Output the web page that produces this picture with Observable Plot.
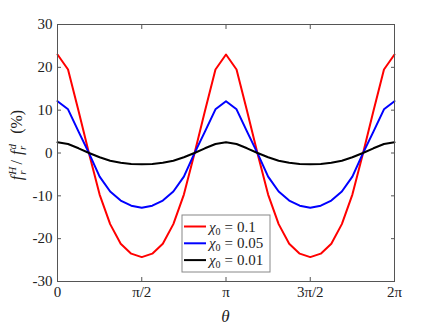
<!DOCTYPE html>
<html>
<head>
<meta charset="utf-8">
<script src="https://cdn.jsdelivr.net/npm/d3@7"></script>
<script src="https://cdn.jsdelivr.net/npm/@observablehq/plot@0.6"></script>
<style>
  html, body { margin: 0; padding: 0; background: #fff; }
</style>
</head>
<body>
<div id="chart"></div>
<script>
// angle grid: 33 samples from 0 to 2π in steps of π/16 (index k)
const stepIndex = [0,1,2,3,4,5,6,7,8,9,10,11,12,13,14,15,16,17,18,19,20,21,22,23,24,25,26,27,28,29,30,31,32];
const theta = stepIndex.map(k => k * Math.PI / 16);

const seriesNames = ["0.1", "0.05", "0.01"];
const seriesColors = ["#ff0000", "#0000ff", "#000000"];

const chi01 = [23.0, 19.5, 9.8, -0.2, -9.7, -16.6, -21.2, -23.5, -24.3, -23.5, -21.2, -16.6, -9.7, -0.2, 9.8, 19.5, 23.0,
               19.5, 9.8, -0.2, -9.7, -16.6, -21.2, -23.5, -24.3, -23.5, -21.2, -16.6, -9.7, -0.2, 9.8, 19.5, 23.0];
const chi005 = [12.1, 10.2, 5.0, -0.1, -5.5, -9.0, -11.1, -12.3, -12.8, -12.3, -11.1, -9.0, -5.5, -0.1, 5.0, 10.2, 12.1,
                10.2, 5.0, -0.1, -5.5, -9.0, -11.1, -12.3, -12.8, -12.3, -11.1, -9.0, -5.5, -0.1, 5.0, 10.2, 12.1];
const chi001 = [2.5, 2.1, 1.1, 0.0, -1.0, -1.8, -2.3, -2.55, -2.65, -2.55, -2.3, -1.8, -1.0, 0.0, 1.1, 2.1, 2.5,
                2.1, 1.1, 0.0, -1.0, -1.8, -2.3, -2.55, -2.65, -2.55, -2.3, -1.8, -1.0, 0.0, 1.1, 2.1, 2.5];

const xTicks = [0, Math.PI / 2, Math.PI, 3 * Math.PI / 2, 2 * Math.PI];
const xTickLabels = ["0", "π/2", "π", "3π/2", "2π"];
const yTicks = [-30, -20, -10, 0, 10, 20, 30];
const yTickLabels = ["-30", "-20", "-10", "0", "10", "20", "30"];

const seriesValues = [chi01, chi005, chi001];
const rows = [];
seriesValues.forEach((vals, s) => vals.forEach((v, i) => rows.push({theta: theta[i], value: v, series: seriesNames[s]})));

const xLab = new Map(xTicks.map((t, i) => [t, xTickLabels[i]]));
const yLab = new Map(yTicks.map((t, i) => [t, yTickLabels[i]]));

const axisColor = "#555";
const plot = Plot.plot({
  width: 436,
  height: 326,
  marginLeft: 57,
  marginRight: 42,
  marginTop: 24,
  marginBottom: 45,
  x: {domain: [0, 2 * Math.PI]},
  y: {domain: [-30, 30]},
  color: {domain: seriesNames, range: seriesColors},
  style: {fontFamily: "'Liberation Serif', 'DejaVu Serif', serif", fontSize: "15px", background: "#fff", color: "#222"},
  marks: [
    Plot.axisX(xTicks, {anchor: "bottom", tickSize: 0, tickPadding: 5, tickFormat: d => xLab.get(d), label: null, fontSize: 15}),
    Plot.axisX(xTicks, {anchor: "bottom", tickSize: -4, fill: "none", stroke: axisColor, label: null}),
    Plot.axisX(xTicks, {anchor: "top", tickSize: -4, fill: "none", stroke: axisColor, label: null}),
    Plot.axisY(yTicks, {anchor: "left", tickSize: 0, tickPadding: 5, tickFormat: d => yLab.get(d), label: null, fontSize: 15}),
    Plot.axisY(yTicks, {anchor: "left", tickSize: -4, fill: "none", stroke: axisColor, label: null}),
    Plot.axisY(yTicks, {anchor: "right", tickSize: -4, fill: "none", stroke: axisColor, label: null}),
    Plot.line(rows, {x: "theta", y: "value", z: "series", stroke: "series", strokeWidth: 2, curve: "linear"}),
    Plot.frame({stroke: axisColor, strokeWidth: 1})
  ]
});

document.getElementById("chart").appendChild(plot);

const svg = d3.select(plot);
const serif = "'Liberation Serif', 'DejaVu Serif', serif";

// y-axis label: f_r^H / f_r^d  (%)
const yl = svg.append("text")
  .attr("transform", "rotate(-90)")
  .attr("x", -145)
  .attr("y", 22)
  .attr("text-anchor", "middle")
  .attr("font-family", serif)
  .attr("font-size", 16)
  .attr("fill", "#222");
yl.append("tspan").attr("font-style", "italic").text("f");
yl.append("tspan").attr("font-style", "italic").attr("font-size", 11).attr("dx", 1).attr("dy", -6).text("H");
yl.append("tspan").attr("font-style", "italic").attr("font-size", 11).attr("dx", -8).attr("dy", 10).text("r");
yl.append("tspan").attr("dx", 6).attr("dy", -4).text("/");
yl.append("tspan").attr("font-style", "italic").attr("dx", 5).text("f");
yl.append("tspan").attr("font-style", "italic").attr("font-size", 11).attr("dx", 1).attr("dy", -6).text("d");
yl.append("tspan").attr("font-style", "italic").attr("font-size", 11).attr("dx", -6).attr("dy", 10).text("r");
yl.append("tspan").attr("dx", 12).attr("dy", -4).text("(%)");

// x-axis label
svg.append("text")
  .attr("x", 225.5)
  .attr("y", 322)
  .attr("text-anchor", "middle")
  .attr("font-family", serif)
  .attr("font-style", "italic")
  .attr("font-size", 17)
  .attr("fill", "#222")
  .text("θ");

// legend
const lg = svg.append("g").attr("font-family", serif).attr("font-size", 15).attr("fill", "#222")
  .attr("text-anchor", "start");
lg.append("rect").attr("x", 182).attr("y", 215).attr("width", 88).attr("height", 57)
  .attr("fill", "#fff").attr("stroke", "#888").attr("stroke-width", 1);
seriesNames.forEach((name, i) => {
  const cy = 226.5 + i * 16.8;
  lg.append("line").attr("x1", 184).attr("x2", 206).attr("y1", cy).attr("y2", cy)
    .attr("stroke", seriesColors[i]).attr("stroke-width", 2);
  const t = lg.append("text").attr("x", 209).attr("y", cy + 5).attr("text-anchor", "start");
  t.append("tspan").attr("font-style", "italic").text("χ");
  t.append("tspan").attr("font-size", 10).attr("dy", 3).text("0");
  t.append("tspan").attr("dx", 4).attr("dy", -3).text("=");
  t.append("tspan").attr("dx", 4).text(name);
});
</script>
</body>
</html>
